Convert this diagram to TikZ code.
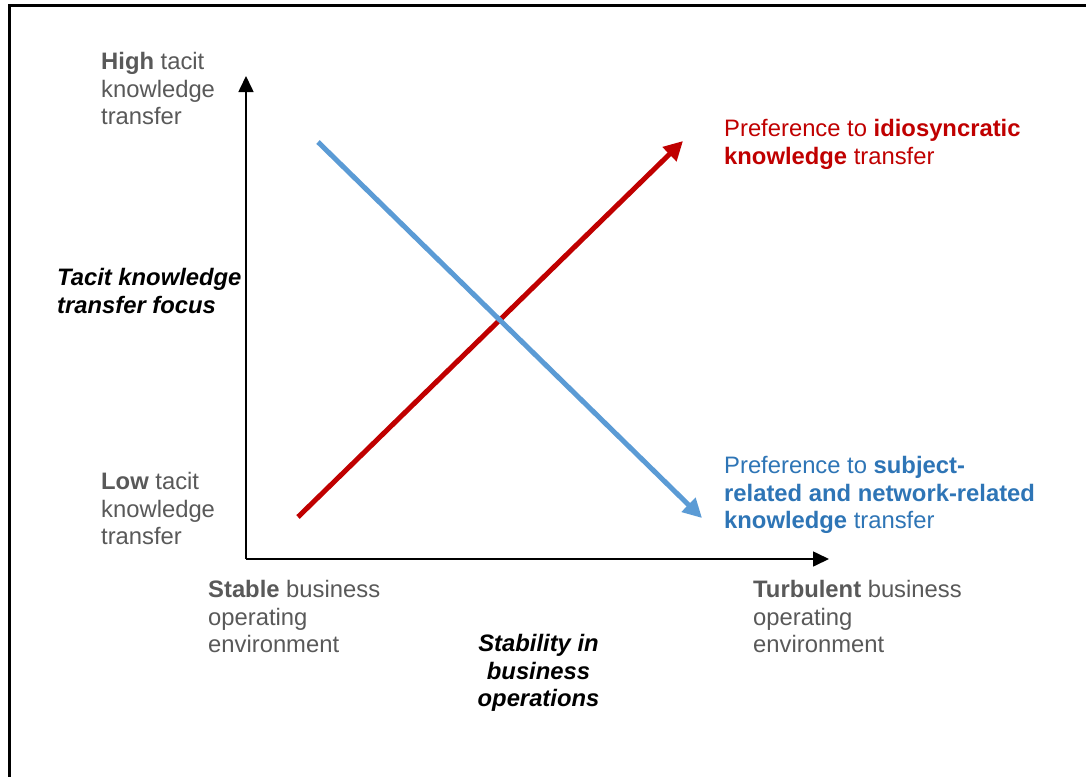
\documentclass[tikz,border=0pt]{standalone}
\usepackage{fontspec}
\setmainfont{Liberation Sans}
\usetikzlibrary{arrows.meta}
\definecolor{txtgray}{HTML}{595959}
\definecolor{myred}{HTML}{C00000}
\definecolor{bluearrow}{HTML}{5B9BD5}
\definecolor{bluetext}{HTML}{2E75B6}
\tikzset{
  lbl/.style={inner sep=0pt, anchor=north west, align=left, font=\fontsize{23.8}{27.6}\selectfont},
  graylbl/.style={lbl, text=txtgray},
  titlelbl/.style={lbl, text=black, font=\fontsize{23.8}{27.6}\selectfont\bfseries\itshape},
  axisline/.style={line width=1.6pt, black, -{Triangle[length=16pt,width=15pt]}},
  trend/.style={line width=5pt, -{Triangle[length=19pt,width=19pt]}}
}
\begin{document}
\begin{tikzpicture}[x=1pt,y=-1pt]
\useasboundingbox (0,0) rectangle (1086,776);
\clip (0,0) rectangle (1086,776);
\fill[white] (0,0) rectangle (1086,776);
\draw[line width=3pt] (9,6) rectangle (1200,900);

\coordinate (origin) at (246,559);
\coordinate (ytip) at (246,76);
\coordinate (xtip) at (829,559);
\draw[axisline] (origin) -- (ytip);
\draw[axisline] (origin) -- (xtip);

\coordinate (rs) at (298,517);
\coordinate (re) at (683,141);
\coordinate (bs) at (318,142);
\coordinate (be) at (702,518);
\draw[trend, myred] (rs) -- (re);
\draw[trend, bluearrow] (bs) -- (be);

\node[graylbl] (high) at (101,52) {\textbf{High} tacit\\knowledge\\transfer};
\node[titlelbl] (yt) at (57,268) {Tacit knowledge\\transfer focus};
\node[graylbl] (low) at (101,472) {\textbf{Low} tacit\\knowledge\\transfer};
\node[graylbl] (stable) at (208,580) {\textbf{Stable} business\\operating\\environment};
\node[titlelbl, anchor=north, align=center] (xt) at (538.5,634) {Stability in\\business\\operations};
\node[graylbl] (turb) at (753,580) {\textbf{Turbulent} business\\operating\\environment};
\node[lbl, text=myred] (redlbl) at (724,119) {Preference to \textbf{idiosyncratic}\\\textbf{knowledge} transfer};
\node[lbl, text=bluetext] (bluelbl) at (724,456) {Preference to \textbf{subject-}\\\textbf{related and network-related}\\\textbf{knowledge} transfer};
\end{tikzpicture}
\end{document}
